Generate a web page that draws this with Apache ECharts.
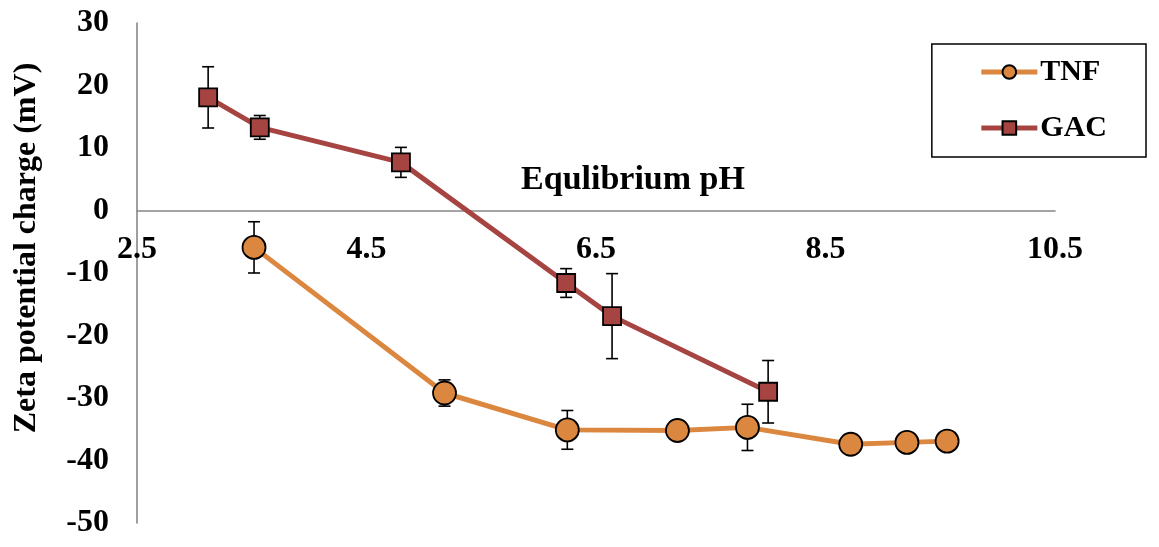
<!DOCTYPE html>
<html>
<head>
<meta charset="utf-8">
<script src="https://cdn.jsdelivr.net/npm/echarts@6/dist/echarts.min.js"></script>
<style>
  html, body { margin: 0; padding: 0; background: #fff; }
  #chart { width: 1159px; height: 547px; }
</style>
</head>
<body>
<div id="chart"></div>
<script>
// Zeta potential vs. equilibrium pH for the two adsorbents
const tnfPH   = [3.52, 5.18, 6.25, 7.21, 7.82, 8.72, 9.21, 9.56];
const tnfZeta = [-5.9, -29.2, -35.1, -35.2, -34.7, -37.4, -37.1, -36.9];
const tnfErr  = [4.1, 2.1, 3.1, 0, 3.7, 0, 0, 0];

const gacPH   = [3.12, 3.57, 4.80, 6.24, 6.64, 8.00];
const gacZeta = [18.1, 13.3, 7.7, -11.6, -16.9, -29.0];
const gacErr  = [4.9, 1.9, 2.4, 2.3, 6.8, 5.0];

const xTicks = [2.5, 4.5, 6.5, 8.5, 10.5];
const yMin = -50, yMax = 30, yStep = 10;
const seriesNames = ['TNF', 'GAC'];
const xTitle = 'Equlibrium pH';
const yTitle = 'Zeta potential charge (mV)';

const FONT = "'Liberation Serif', 'Times New Roman', serif";
const TNF_COLOR = '#DC873F';
const GAC_COLOR = '#A64442';

// plot box
const GRID = { left: 137, right: 104, top: 23, bottom: 24 };
const plotH = 547 - GRID.top - GRID.bottom;
// the pH axis crosses the zeta axis at 0 mV
const xAxisShift = -plotH * (0 - yMin) / (yMax - yMin);

const pairs = (xs, ys) => xs.map((x, i) => [x, ys[i]]);
const errRows = (xs, ys, es) => xs.map((x, i) => [x, ys[i], es[i]]);

// vertical error bar with caps, drawn under the markers
function renderErr(params, api) {
  const e = api.value(2);
  if (!e) return null;
  const x = api.value(0), y = api.value(1);
  const top = api.coord([x, y + e]);
  const bot = api.coord([x, y - e]);
  const cap = 6;
  const style = { stroke: '#000', lineWidth: 1.6 };
  return {
    type: 'group',
    children: [
      { type: 'line', shape: { x1: top[0], y1: top[1], x2: bot[0], y2: bot[1] }, style },
      { type: 'line', shape: { x1: top[0] - cap, y1: top[1], x2: top[0] + cap, y2: top[1] }, style },
      { type: 'line', shape: { x1: bot[0] - cap, y1: bot[1], x2: bot[0] + cap, y2: bot[1] }, style }
    ]
  };
}

const chart = echarts.init(document.getElementById('chart'), null, { renderer: 'canvas' });

chart.setOption({
  animation: false,
  backgroundColor: '#ffffff',
  textStyle: { fontFamily: FONT },
  grid: Object.assign({ containLabel: false, outerBoundsMode: 'none' }, GRID),
  legend: {
    data: seriesNames,
    orient: 'vertical',
    right: 13,
    top: 44,
    padding: [13, 39, 14, 47],
    itemWidth: 56,
    itemHeight: 17,
    itemGap: 26,
    borderColor: '#000',
    borderWidth: 1.5,
    lineStyle: { width: 5 },
    textStyle: { fontFamily: FONT, fontWeight: 'bold', fontSize: 30, color: '#000', padding: [0, 0, 0, -2] }
  },
  xAxis: {
    type: 'value',
    min: 2.5,
    max: 10.5,
    offset: xAxisShift,
    name: xTitle,
    nameLocation: 'middle',
    nameGap: -47,
    nameTextStyle: { fontFamily: FONT, fontWeight: 'bold', fontSize: 34, color: '#000', padding: [0, 0, 0, 74] },
    axisLine: { onZero: false, lineStyle: { color: '#878787', width: 1.6 } },
    axisTick: { show: false, customValues: xTicks },
    axisLabel: {
      customValues: xTicks,
      margin: 23,
      fontFamily: FONT, fontWeight: 'bold', fontSize: 32, color: '#000',
      formatter: v => v.toFixed(1)
    },
    splitLine: { show: false }
  },
  yAxis: {
    type: 'value',
    min: yMin,
    max: yMax,
    interval: yStep,
    name: yTitle,
    nameLocation: 'middle',
    nameGap: 94,
    nameRotate: 90,
    nameTextStyle: { fontFamily: FONT, fontWeight: 'bold', fontSize: 32, color: '#000', padding: [0, 0, 0, 50] },
    axisLine: { show: true, onZero: false, lineStyle: { color: '#878787', width: 1.6 } },
    axisTick: { show: false },
    axisLabel: { margin: 28, fontFamily: FONT, fontWeight: 'bold', fontSize: 32, color: '#000' },
    splitLine: { show: false }
  },
  series: [
    {
      name: 'TNF err',
      type: 'custom',
      z: 1,
      renderItem: renderErr,
      data: errRows(tnfPH, tnfZeta, tnfErr),
      encode: { x: 0, y: 1 },
      silent: true
    },
    {
      name: 'GAC err',
      type: 'custom',
      z: 1,
      renderItem: renderErr,
      data: errRows(gacPH, gacZeta, gacErr),
      encode: { x: 0, y: 1 },
      silent: true
    },
    {
      name: seriesNames[0],
      type: 'line',
      z: 3,
      data: pairs(tnfPH, tnfZeta),
      symbol: 'circle',
      symbolSize: 23,
      lineStyle: { color: TNF_COLOR, width: 5 },
      itemStyle: { color: TNF_COLOR, borderColor: '#000', borderWidth: 1.8 }
    },
    {
      name: seriesNames[1],
      type: 'line',
      z: 4,
      data: pairs(gacPH, gacZeta),
      symbol: 'rect',
      symbolSize: 18,
      lineStyle: { color: GAC_COLOR, width: 5 },
      itemStyle: { color: GAC_COLOR, borderColor: '#000', borderWidth: 1.8 }
    }
  ]
});
</script>
</body>
</html>
